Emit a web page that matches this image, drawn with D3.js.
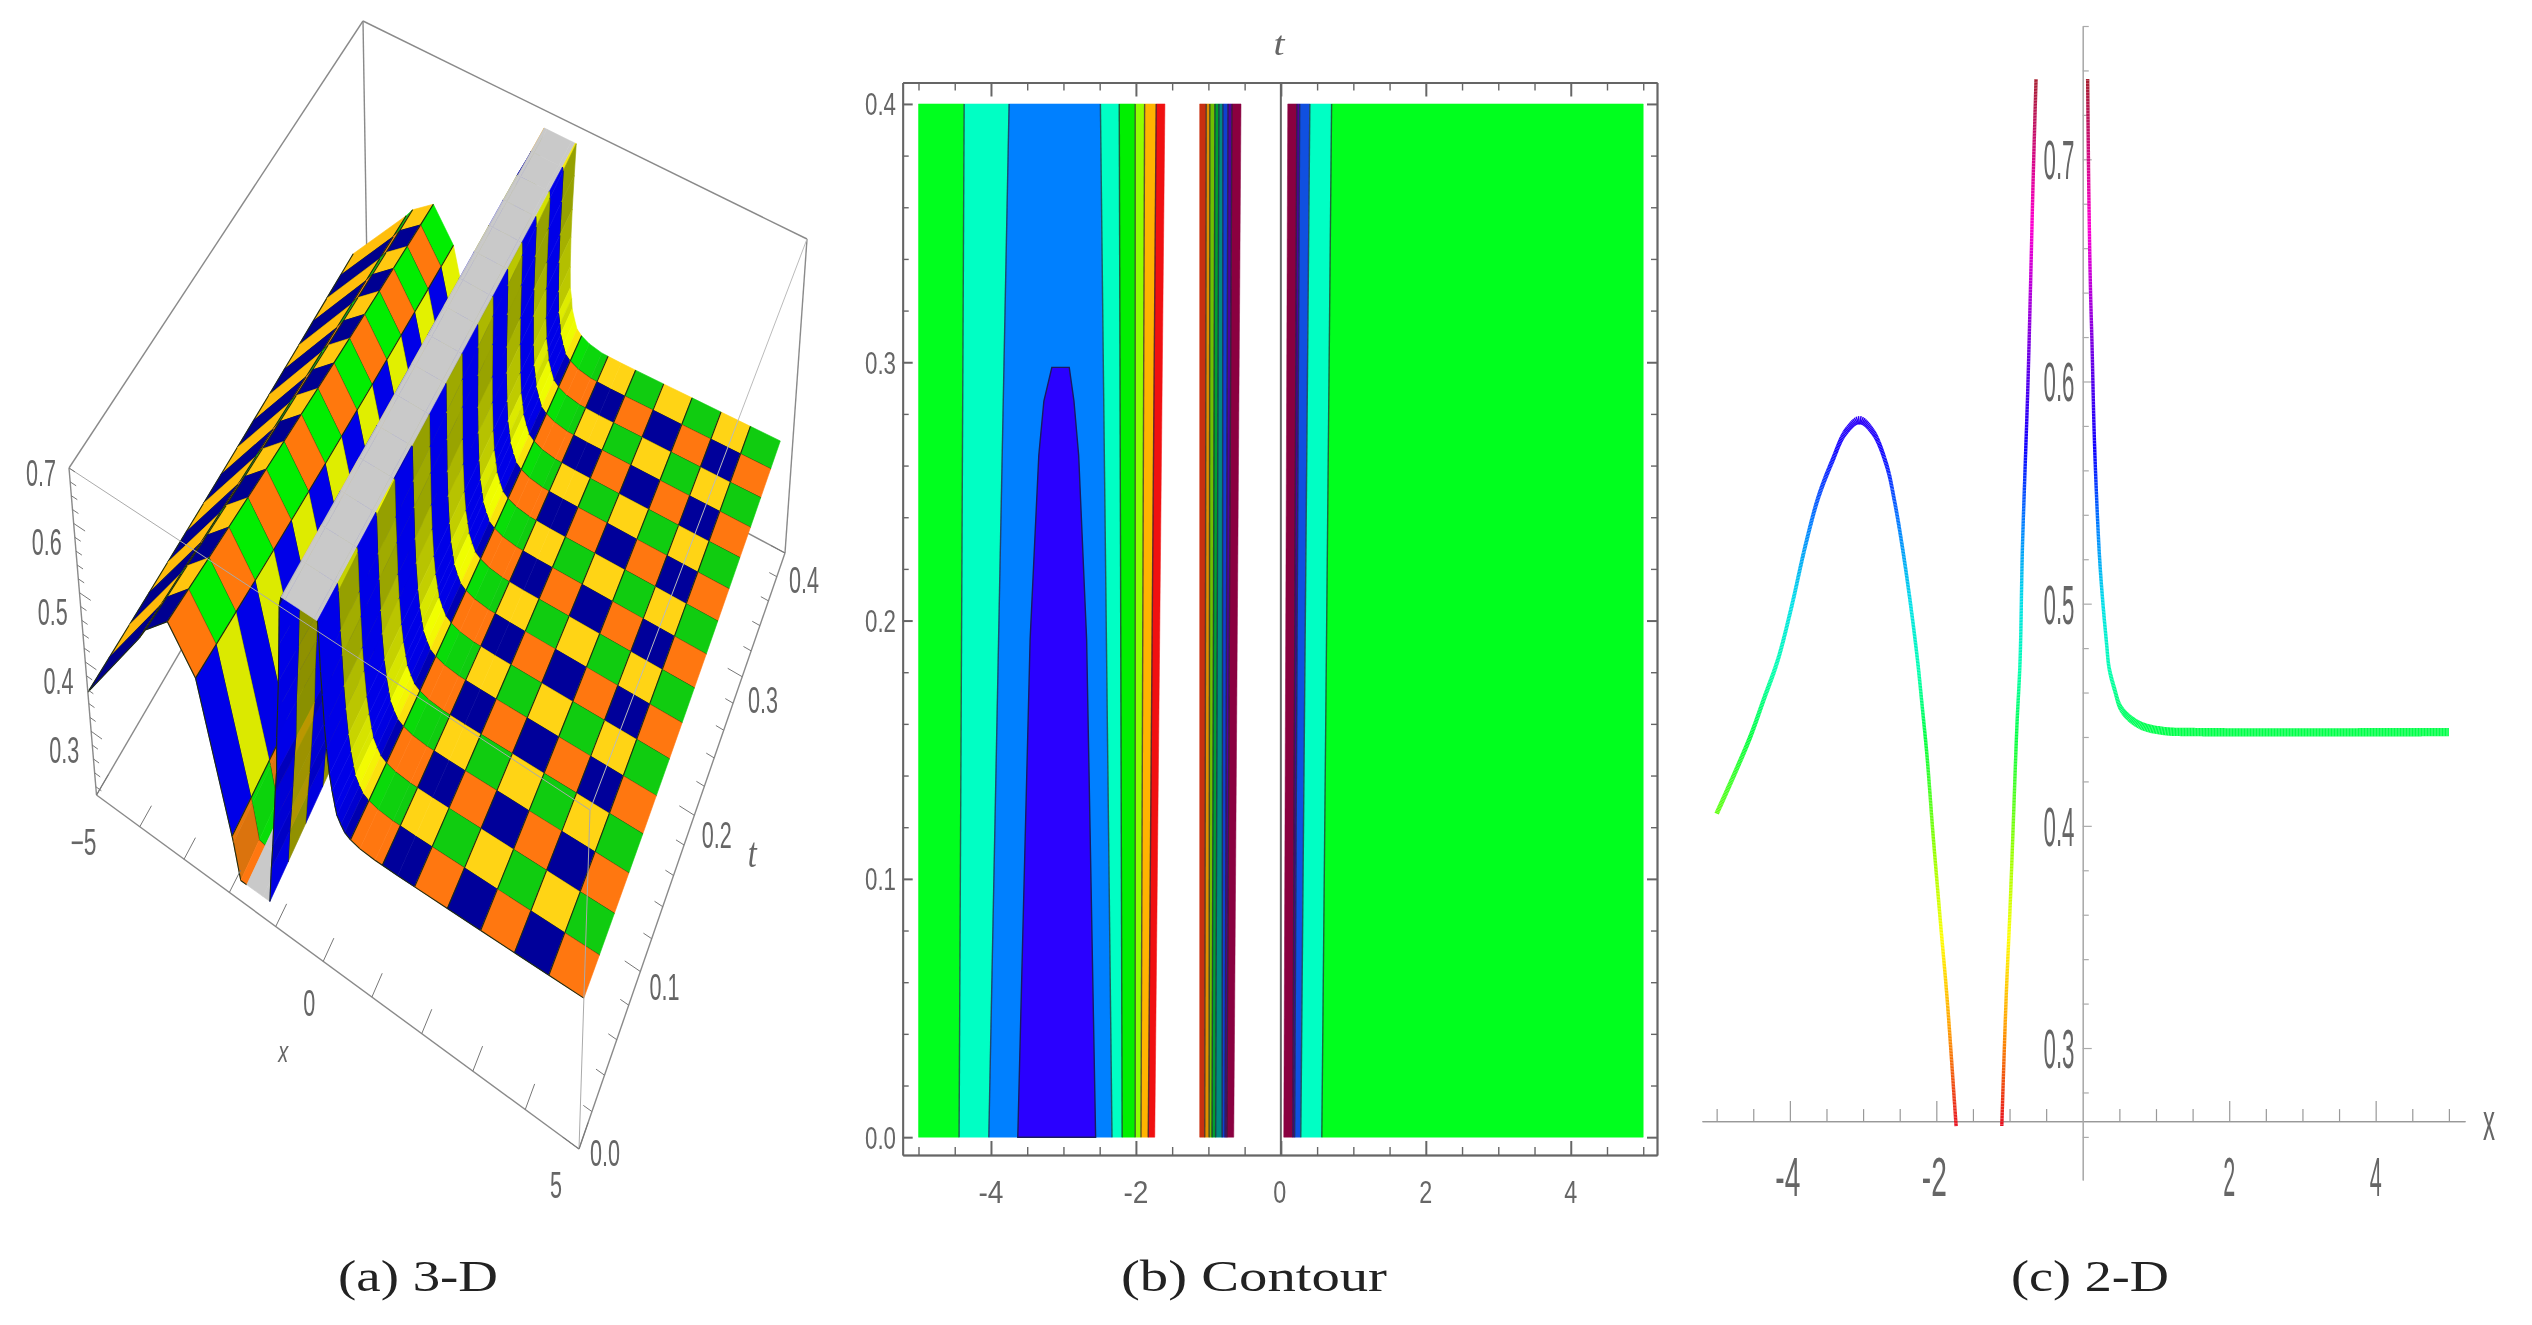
<!DOCTYPE html>
<html>
<head>
<meta charset="utf-8">
<script src="https://cdn.jsdelivr.net/npm/d3@7"></script>
<style>
  html, body { margin: 0; background: #fff; }
  svg { display: block; filter: blur(0.6px); }
</style>
</head>
<body>
<div id="chart"></div>
<script>
// Solution profile: x, height at t = 0 and height at t = 0.4
const profileX = [-5, -4.76, -4.537, -4.35, -4.165, -3.98, -3.79, -3.61, -3.42, -3.24, -3.05, -2.865, -2.68, -2.57, -2.457, -2.345, -2.257, -2.198, -2.125, -2.05, -1.938, -1.852, -1.73, -1.6, -1.106, -1.047, -0.996, -0.952, -0.898, -0.856, -0.825, -0.788, -0.75, -0.713, -0.679, -0.638, -0.56, 0.0668, 0.081, 0.104, 0.127, 0.154, 0.184, 0.23, 0.275, 0.326, 0.36, 0.437, 0.51, 0.62, 0.81, 1.105, 1.55, 5];
const profileZ0 = [0.4055, 0.4231, 0.4404, 0.4575, 0.4746, 0.4982, 0.5259, 0.548, 0.5643, 0.5772, 0.5826, 0.5772, 0.5624, 0.546, 0.524, 0.498, 0.4746, 0.4555, 0.4307, 0.3983, 0.3545, 0.322, 0.2649, 0.2649, 0.2649, 0.322, 0.3603, 0.3983, 0.446, 0.4746, 0.524, 0.5606, 0.5975, 0.6434, 0.6893, 0.7361, 0.7361, 0.7361, 0.6893, 0.6434, 0.6159, 0.579, 0.5516, 0.5203, 0.5002, 0.4817, 0.471, 0.4611, 0.4536, 0.449, 0.4449, 0.4427, 0.4422, 0.4422];
const profileZ4 = [0.4, 0.415, 0.44, 0.455, 0.468, 0.485, 0.5, 0.518, 0.532, 0.542, 0.545, 0.54, 0.525, 0.51, 0.492, 0.47, 0.458, 0.447, 0.425, 0.4, 0.365, 0.34, 0.305, 0.2649, 0.2649, 0.31, 0.35, 0.385, 0.43, 0.455, 0.5, 0.535, 0.57, 0.61, 0.65, 0.695, 0.7361, 0.7361, 0.73, 0.7, 0.665, 0.625, 0.59, 0.55, 0.52, 0.505, 0.49, 0.475, 0.462, 0.455, 0.448, 0.443, 0.442, 0.442];
const curveRuns = [[-5, -1.73], [-1.106, -0.638], [0.0668, 5]];

// Mesh edges of the 3-D surface along x, the ridge cells are uneven in the picture
const meshEdgesX = [-5, -3.7, -3.55, -3.05, -2.5, -1.875, -1.25, -0.625, 0, 0.625, 1.25, 1.875, 2.5, 3.125, 3.75, 4.375, 5];
const meshEdgesT = [0, 0.025, 0.05, 0.075, 0.1, 0.125, 0.15, 0.175, 0.2, 0.225, 0.25, 0.275, 0.3, 0.325, 0.35, 0.375, 0.4];

// Contour bands of panel (b): edges at t = 0 and t = 0.4, one colour per band
const bandEdgesT0 = [-5, -4.44, -4.03, -2.33, -2.19, -2.01, -1.93, -1.83, -1.74, -1.12, -1.05, -0.99, -0.95, -0.9, -0.81, -0.77, -0.745, -0.65, 0.04, 0.165, 0.19, 0.275, 0.565, 5];
const bandEdgesT4 = [-5, -4.37, -3.75, -2.49, -2.23, -2.01, -1.88, -1.72, -1.6, -1.12, -1.03, -0.98, -0.91, -0.855, -0.8, -0.73, -0.675, -0.55, 0.095, 0.22, 0.26, 0.4, 0.7, 5];
const bandColors = ['#00ff1e', '#00ffc4', '#0080ff', '#00ffc4', '#00f000', '#90ff00', '#ffb400', '#f01010', null, '#c83010', '#e09000', '#70c000', '#00a030', '#008a80', '#1040d0', '#5000a0', '#8a0040', null, '#8a0040', '#5000a0', '#1050e0', '#00ffc4', '#00ff1e'];
const coreT = [0, 0.1925, 0.264, 0.285, 0.298];
const coreLeft = [-3.63, -3.46, -3.34, -3.27, -3.16];
const coreRight = [-2.556, -2.68, -2.79, -2.855, -2.92];

// Tick labels
const contourXLabels = [-4, -2, 0, 2, 4];
const contourYLabels = [0, 0.1, 0.2, 0.3, 0.4];
const lineYLabels = [0.3, 0.4, 0.5, 0.6, 0.7];
const lineXLabels = [-4, -2, 2, 4];
const boxXLabels = [-5, 0, 5];
const boxTLabels = [0, 0.1, 0.2, 0.3, 0.4];
const boxZLabels = [0.3, 0.4, 0.5, 0.6, 0.7];
const captions = ['(a)  3-D', '(b)  Contour', '(c)  2-D'];

const zFloor = 0.2649;
const zCeil = 0.7;
const labelColor = '#666';

const svg = d3.select('#chart')
  .append('svg')
  .attr('width', 2532)
  .attr('height', 1325);

// Text squeezed to the measured box, the source figure is stretched unevenly
function label(g, str, cx, cy, w, h, opts = {}) {
  g.append('text')
    .attr('x', cx - w / 2)
    .attr('y', cy + h / 2)
    .attr('font-family', opts.family || '"Liberation Sans", sans-serif')
    .attr('font-style', opts.italic ? 'italic' : 'normal')
    .attr('font-size', h / (opts.ratio || 0.72))
    .attr('textLength', w)
    .attr('lengthAdjust', 'spacingAndGlyphs')
    .attr('fill', opts.fill || labelColor)
    .text(str);
}

function tickStyle(sel, color, width) {
  sel.selectAll('text').remove();
  sel.selectAll('line').attr('stroke', color).attr('stroke-width', width);
  sel.selectAll('path').attr('stroke', color).attr('stroke-width', width);
}

// Panel (a): 3-D box corners on the page, named by x / t / z end
const box = {
  lll: [96.5, 795], hll: [579, 1149], lhl: [368, 330], hhl: [785, 553],
  llh: [69, 468], hlh: [590, 810], lhh: [363, 21], hhh: [807, 239],
};
const boxX = d3.scaleLinear().domain([-5, 5]).range([0, 1]);
const boxT = d3.scaleLinear().domain([0, 0.4]).range([0, 1]);
const boxZ = d3.scaleLinear().domain([0.228, 0.7]).range([0, 1]);
const persp = (u, r) => u / (u + (1 - u) * r);

function project(x, t, z, flatZ) {
  const u = persp(boxX(x), 1.128);
  const v = persp(boxT(t), 0.786);
  const r = flatZ ? 1 : 1.06 + 0.27 * (1 - u) + 0.386 * v;
  const w = persp(boxZ(z), r);
  const mix = (k) => d3.sum([
    [box.lll, (1 - u) * (1 - v) * (1 - w)], [box.hll, u * (1 - v) * (1 - w)],
    [box.lhl, (1 - u) * v * (1 - w)], [box.hhl, u * v * (1 - w)],
    [box.llh, (1 - u) * (1 - v) * w], [box.hlh, u * (1 - v) * w],
    [box.lhh, (1 - u) * v * w], [box.hhh, u * v * w],
  ], (c) => c[0][k] * c[1]);
  if (flatZ) return [mix(0), mix(1)];
  // The surface does not sit exactly on the box in the source, nudge it
  return [mix(0) - 20 * u * v * (1 - w) - 18 * (1 - u) * v * (1 - w), mix(1) + w * w * (28 * v - 10)];
}

const shadeNavy = d3.scaleLinear().domain([-0.15, 0, 0.2, 1]).range(['#0000e8', '#00009a', '#00007a', '#0000e8']).clamp(true);
const shadeGreen = d3.scaleLinear().domain([-0.6, -0.06, 0, 0.3, 1.5]).range(['#10c810', '#00f000', '#10cc10', '#00d020', '#10c810']).clamp(true);
const shadeOrange = d3.scaleLinear().domain([-0.6, -0.2, 0, 0.3, 1.5]).range(['#c87010', '#ff7a08', '#ff7710', '#ffa000', '#c87010']).clamp(true);
const shadeYellow = d3.scaleLinear().domain([-1.5, -0.5, -0.15, 0, 0.2, 1]).range(['#95a000', '#c4d000', '#f0ff00', '#ffd415', '#ffa000', '#8a9000']).clamp(true);

function cellColor(col, row, slope) {
  if (col % 2 === 0) return row % 2 === 0 ? shadeOrange(slope) : shadeGreen(slope);
  return row % 2 === 0 ? shadeNavy(slope) : shadeYellow(slope);
}

function drawSurfacePanel() {
  const g = svg.append('g');
  const z0At = d3.scaleLinear().domain(profileX).range(profileZ0);
  const z4At = d3.scaleLinear().domain(profileX).range(profileZ4);
  const height = (x, t) => {
    const k = boxT(t);
    const z = z0At(x) * (1 - k) + z4At(x) * k;
    return Math.max(zFloor, Math.min(zCeil, z));
  };

  // Mesh edges cut the profile knots into strips, far strips get painted first.
  // The ridge keeps only its mesh edges so its facets stay angular.
  const rows = meshEdgesT.length - 1;
  const knots = Array.from(new Set([...profileX.filter((v) => v > -1.875), ...meshEdgesX])).sort(d3.ascending);
  const items = [];
  const line = d3.line();
  d3.pairs(knots).forEach(([xa, xb]) => {
    const col = meshEdgesX.length - 2 - (d3.bisectRight(meshEdgesX, (xa + xb) / 2) - 1);
    for (let row = rows - 1; row >= 0; row -= 1) {
      const ta = meshEdgesT[row];
      const tb = meshEdgesT[row + 1];
      const corners = [[xa, ta], [xb, ta], [xb, tb], [xa, tb]];
      const zs = corners.map(([x, t]) => height(x, t));
      const capped = zs.every((z) => z >= zCeil) || zs.every((z) => z <= zFloor);
      const slope = ((zs[1] + zs[2]) - (zs[0] + zs[3])) / (2 * (xb - xa));
      const fill = capped ? '#c9c9c9' : cellColor(col, row, slope);
      const pts = corners.map(([x, t], i) => project(x, t, zs[i]));
      items.push({ d: `${line(pts)}Z`, fill, stroke: fill, width: 0.6 });
      // near side of the cell and left side when this strip starts a cell
      items.push({ d: line([pts[0], pts[1]]), fill: 'none', stroke: '#1c2a10', width: capped ? 0 : 1.1 });
      if (meshEdgesX.includes(xa) && !capped) {
        items.push({ d: line([pts[0], pts[3]]), fill: 'none', stroke: '#1c2a10', width: 1.1 });
      }
    }
  });

  // Hidden box edges go under the surface
  const boxLine = (a, b, color = '#8a8a8a', width = 1.4) => g.append('path')
    .attr('d', line([a, b])).attr('stroke', color).attr('stroke-width', width).attr('fill', 'none');
  boxLine(box.llh, box.lhh);
  boxLine(box.lhh, box.hhh);
  boxLine(box.lhh, box.lhl);
  boxLine(box.lll, box.lhl);
  boxLine(box.lhl, box.hhl);
  boxLine(box.hhl, box.hhh);

  g.append('g')
    .selectAll('path')
    .data(items)
    .join('path')
    .attr('d', (d) => d.d)
    .attr('fill', (d) => d.fill)
    .attr('stroke', (d) => d.stroke)
    .attr('stroke-width', (d) => d.width)
    .attr('stroke-linejoin', 'round');

  // Front edges sit over the surface
  boxLine(box.llh, box.lll);
  boxLine(box.lll, box.hll);
  boxLine(box.hll, box.hhl);
  boxLine(box.llh, box.hlh, '#aaa', 1);
  boxLine(box.hlh, box.hhh, '#bbb', 1);
  boxLine(box.hll, box.hlh, '#aaa', 1);

  // Ticks on the three outer axes
  const tickLine = (a, b, width = 1) => boxLine(a, b, '#777', width);
  d3.range(-5, 5.01, 1).forEach((x) => tickLine(project(x, 0, 0.228, true), project(x, 0.014, 0.228, true)));
  d3.range(0, 0.401, 0.02).forEach((t, i) => {
    const len = i % 5 === 0 ? 0.3 : 0.16;
    tickLine(project(5, t, 0.228, true), project(5 - len, t, 0.228, true));
  });
  d3.range(0.24, 0.701, 0.02).forEach((z, i) => {
    const len = (i + 1) % 5 === 0 ? 0.25 : 0.13;
    tickLine(project(-5, 0, z, true), project(-5 + len, 0, z, true));
  });

  // Labels hang off the axis, the offsets drift a little along each axis
  boxZLabels.forEach((v) => {
    const [px, py] = project(-5, 0, v, true);
    label(g, v.toFixed(1), px - 28, py + 5, 30, 26);
  });
  const xLabelDx = d3.scaleLinear().domain([-5, 0, 5]).range([-13, -14, -23]);
  const xLabelDy = d3.scaleLinear().domain([-5, 0, 5]).range([47, 42, 36]);
  boxXLabels.forEach((v) => {
    const [px, py] = project(v, 0, 0.228, true);
    const str = v < 0 ? `\u2212${-v}` : `${v}`;
    label(g, str, px + xLabelDx(v), py + xLabelDy(v), v < 0 ? 26 : 12, 26);
  });
  boxTLabels.forEach((v) => {
    const [px, py] = project(5, v, 0.228, true);
    const k = boxT(v);
    label(g, v.toFixed(1), px + 26 - 7 * k, py + 3 + 23 * Math.sqrt(k), 30, 27);
  });
  const xAt = project(0, 0, 0.228, true);
  label(g, 'x', xAt[0] - 40, xAt[1] + 93, 10, 15, { ratio: 0.52, italic: true });
  const tAt = project(5, 0.2, 0.228, true);
  label(g, 't', tAt[0] + 58, tAt[1] + 37, 9, 30, { family: '"Liberation Serif", serif', italic: true });
  label(g, captions[0], 418, 1276, 160, 30, { family: '"Liberation Serif", serif', fill: '#222', ratio: 0.68 });
}

function drawContourPanel() {
  const g = svg.append('g');
  const x = d3.scaleLinear().domain([-5.218, 5.19]).range([902.7, 1657]);
  const y = d3.scaleLinear().domain([-0.0069, 0.4083]).range([1155, 82.5]);
  const area = d3.line();

  g.append('g')
    .selectAll('path')
    .data(bandColors.map((color, i) => ({ color, i })).filter((d) => d.color))
    .join('path')
    .attr('d', (d) => `${area([
      [x(bandEdgesT0[d.i]), y(0)], [x(bandEdgesT0[d.i + 1]), y(0)],
      [x(bandEdgesT4[d.i + 1]), y(0.4)], [x(bandEdgesT4[d.i]), y(0.4)],
    ])}Z`)
    .attr('fill', (d) => d.color)
    .attr('stroke', (d) => d.color)
    .attr('stroke-width', 0.5);

  // Contour lines between the filled bands
  g.append('g')
    .selectAll('path')
    .data(bandEdgesT0.map((e, i) => ({ e, i })).filter((d) => d.i > 0 && d.i < bandEdgesT0.length - 1
      && bandColors[d.i - 1] && bandColors[d.i]))
    .join('path')
    .attr('d', (d) => area([[x(d.e), y(0)], [x(bandEdgesT4[d.i]), y(0.4)]]))
    .attr('stroke', '#223')
    .attr('stroke-opacity', 0.7)
    .attr('stroke-width', 1.4);

  const corePts = [
    ...coreT.map((t, i) => [x(coreLeft[i]), y(t)]),
    ...coreT.map((t, i) => [x(coreRight[i]), y(t)]).reverse(),
  ];
  g.append('path')
    .attr('d', `${area(corePts)}Z`)
    .attr('fill', '#2a00ff')
    .attr('stroke', '#1a1a60')
    .attr('stroke-width', 1.4);

  const frameColor = '#666';
  const majorX = contourXLabels;
  const minorX = d3.range(-5, 5.01, 0.5).filter((v) => !majorX.includes(v));
  const majorY = contourYLabels;
  const minorY = d3.range(0, 0.401, 0.02).filter((v) => !majorY.some((m) => Math.abs(m - v) < 1e-6));

  const axes = [
    [d3.axisBottom(x), `translate(0,${y.range()[0]})`, majorX, minorX, -14, -8],
    [d3.axisTop(x), `translate(0,${y.range()[1]})`, majorX, minorX, -14, -8],
    [d3.axisLeft(y), `translate(${x.range()[0]},0)`, majorY, minorY, -10, -6],
    [d3.axisRight(y), `translate(${x.range()[1]},0)`, majorY, minorY, -10, -6],
  ];
  axes.forEach(([axis, transform, major, minor, bigTick, smallTick]) => {
    g.append('g').attr('transform', transform)
      .call(axis.tickValues(major).tickSize(bigTick).tickSizeOuter(0).tickFormat(''))
      .call(tickStyle, frameColor, 2);
    g.append('g').attr('transform', transform)
      .call(axis.tickValues(minor).tickSize(smallTick).tickSizeOuter(0).tickFormat(''))
      .call(tickStyle, frameColor, 1.4);
  });

  // Zero line through the frame
  g.append('line')
    .attr('x1', x(0)).attr('x2', x(0))
    .attr('y1', y.range()[0]).attr('y2', y.range()[1])
    .attr('stroke', frameColor)
    .attr('stroke-width', 2);

  contourYLabels.forEach((v) => label(g, v.toFixed(1), 880.5, y(v), 31, 23));
  contourXLabels.forEach((v) => {
    const str = v < 0 ? `-${-v}` : `${v}`;
    label(g, str, x(v) - (v === 0 ? 1 : 0), 1191, v < 0 ? 25 : 13, 23);
  });
  label(g, 't', 1279, 43, 11, 24, { family: '"Liberation Serif", serif', italic: true });
  label(g, captions[1], 1254, 1276, 266, 30, { family: '"Liberation Serif", serif', fill: '#222', ratio: 0.68 });
}

function drawLinePanel() {
  const g = svg.append('g');
  const x = d3.scaleLinear().domain([-5.2, 5.22]).range([1702, 2465]);
  const y = d3.scaleLinear().domain([0.2406, 0.76]).range([1180, 26]);
  const hue = d3.scaleLinear()
    .domain([0.2649, 0.285, 0.31, 0.35, 0.39, 0.44, 0.47, 0.5, 0.535, 0.57, 0.62, 0.67, 0.715, 0.7361])
    .range(['#e81020', '#f05010', '#ffa000', '#ffff00', '#90ff00', '#00ff40', '#00ffb0', '#00e0e8', '#0080ff', '#1000ff', '#8000e0', '#ff00d0', '#c01060', '#a82030'])
    .clamp(true);

  const xAxisY = y(0.2671);
  const minorTicksY = d3.range(0.26, 0.761, 0.02).filter((v) => Math.round(v * 100) % 10 !== 0);
  const minorTicksX = d3.range(-5, 5.01, 0.5).filter((v) => v !== 0 && !lineXLabels.includes(v));

  g.append('g').attr('transform', `translate(0,${xAxisY})`)
    .call(d3.axisTop(x).tickValues(lineXLabels).tickSize(20).tickSizeOuter(0).tickFormat(''))
    .call(tickStyle, '#999', 1.2);
  g.append('g').attr('transform', `translate(0,${xAxisY})`)
    .call(d3.axisTop(x).tickValues(minorTicksX).tickSize(12).tickSizeOuter(0).tickFormat(''))
    .call(tickStyle, '#999', 1.2);
  g.append('g').attr('transform', `translate(${x(0)},0)`)
    .call(d3.axisRight(y).tickValues(lineYLabels).tickSize(9).tickSizeOuter(0).tickFormat(''))
    .call(tickStyle, '#aaa', 1.2);
  g.append('g').attr('transform', `translate(${x(0)},0)`)
    .call(d3.axisRight(y).tickValues(minorTicksY).tickSize(6).tickSizeOuter(0).tickFormat(''))
    .call(tickStyle, '#aaa', 1.2);

  // The plotted stroke behaves like a flat pen, wide vertically and narrow sideways
  const smooth = d3.line().x((d) => x(d[0])).y((d) => y(d[1])).curve(d3.curveCatmullRom.alpha(0.5));
  const pen = g.append('g').attr('fill', 'none');
  curveRuns.forEach(([from, to]) => {
    const run = profileX
      .map((v, i) => [v, profileZ0[i]])
      .filter((d) => d[0] >= from && d[0] <= to);
    const guide = g.append('path').attr('d', smooth(run)).attr('fill', 'none');
    const node = guide.node();
    const total = node.getTotalLength();
    const samples = d3.range(0, total, 1.5).concat([total]).map((l) => node.getPointAtLength(l));
    d3.pairs(samples).forEach(([a, b]) => {
      const dx = b.x - a.x;
      const dy = b.y - a.y;
      const len = Math.hypot(dx, dy) || 1;
      const half = Math.hypot(1.7 * (dy / len), 4.2 * (dx / len));
      pen.append('line')
        .attr('x1', a.x).attr('y1', a.y)
        .attr('x2', b.x).attr('y2', b.y)
        .attr('stroke', hue(y.invert(a.y)))
        .attr('stroke-width', 2 * half)
        .attr('stroke-linecap', 'butt');
    });
    guide.remove();
  });

  lineYLabels.forEach((v) => label(g, v.toFixed(1), 2059, y(v), 31, 40));
  lineXLabels.forEach((v) => {
    const str = v < 0 ? `-${-v}` : `${v}`;
    label(g, str, x(v) - (v < 0 ? 2 : 0), 1176, v < 0 ? 25 : 12, 40);
  });
  label(g, 'x', 2489, 1126, 12, 28, { ratio: 0.52 });
  label(g, captions[2], 2090, 1276, 158, 30, { family: '"Liberation Serif", serif', fill: '#222', ratio: 0.68 });
}

drawSurfacePanel();
drawContourPanel();
drawLinePanel();
</script>
</body>
</html>
